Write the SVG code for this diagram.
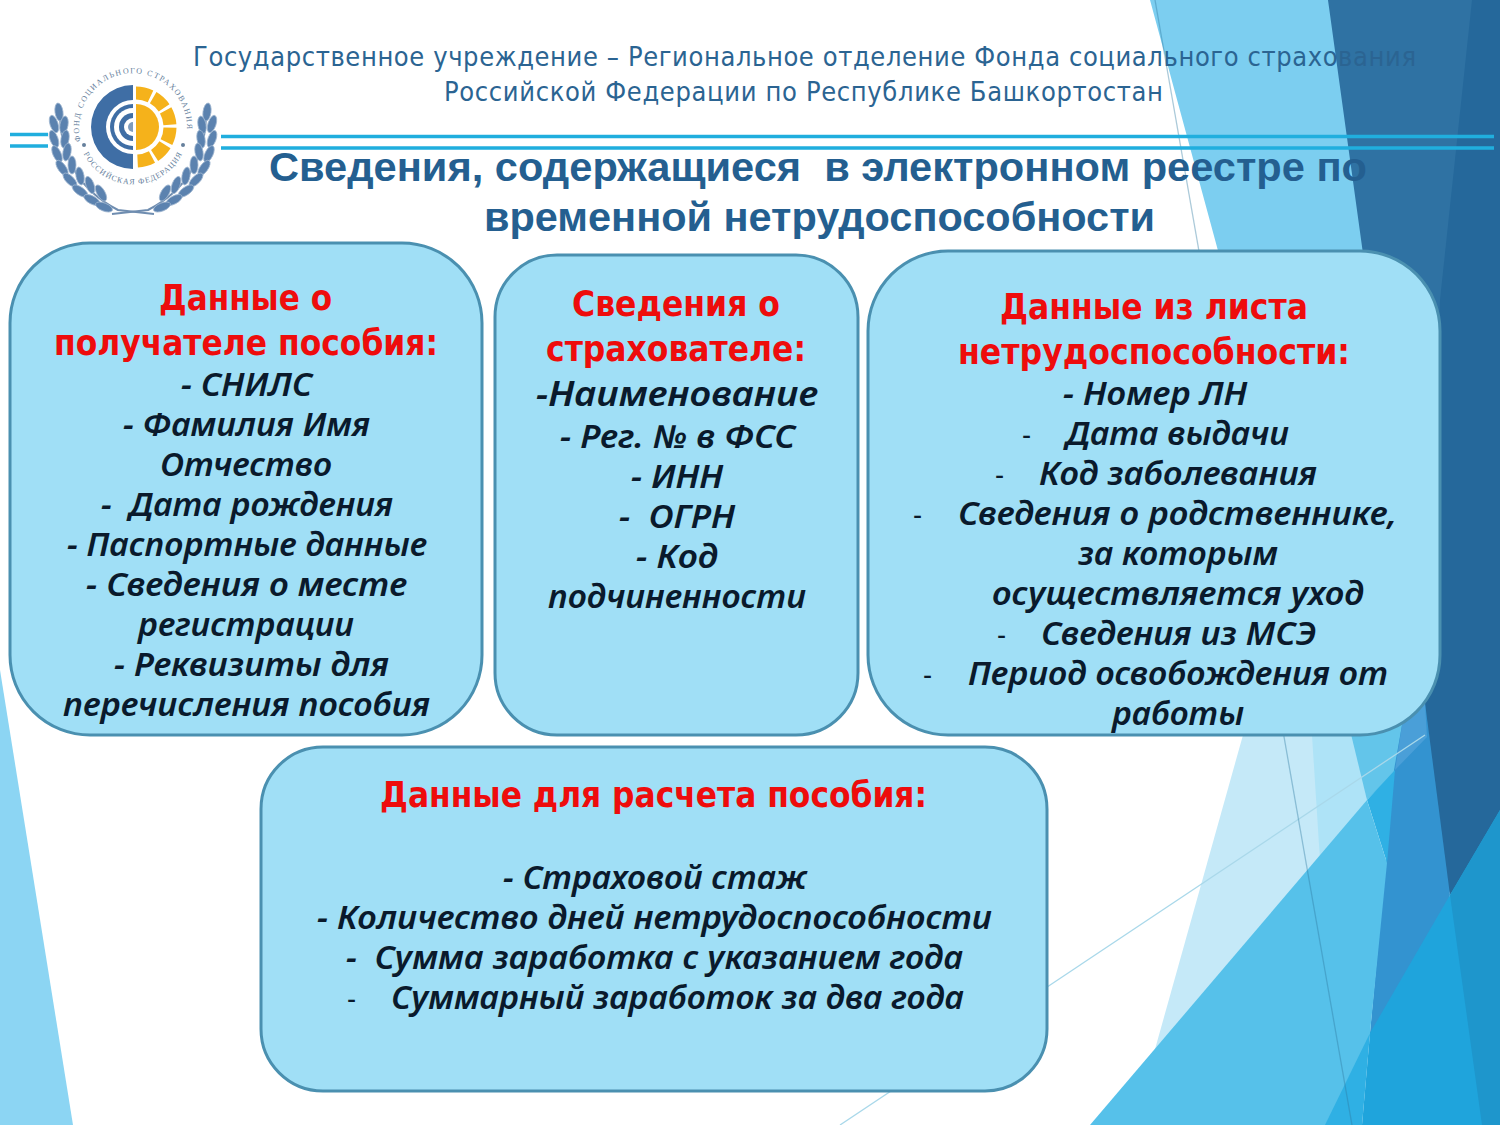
<svg xmlns="http://www.w3.org/2000/svg" xmlns:xlink="http://www.w3.org/1999/xlink" width="1500" height="1125" viewBox="0 0 1500 1125">
<style>
text{white-space:pre;font-family:"DejaVu Sans","Noto Sans",sans-serif;font-stretch:condensed}
.box{fill:#a0dff6;stroke:#4a90b0;stroke-width:3}
.h{font-size:36px;font-weight:bold;fill:#ee0c0c}
.t{font-family:"Noto Sans","DejaVu Sans",sans-serif;font-stretch:normal;font-size:32px;font-weight:600;font-style:italic;fill:#0a1a2c}
.d{font-size:28px;fill:#0a1a2c}
.hdr{font-size:27px;fill:#2b6492}
.ttl{font-family:"Liberation Sans",Arial,sans-serif;font-stretch:normal;font-size:40px;font-weight:bold;fill:#245f90}
.rule{stroke:#20aede;stroke-width:3.5;fill:none}
.thin{stroke:#a9d8ea;stroke-width:1.3;fill:none}
.ring{font-family:"Liberation Serif",serif;font-stretch:normal;font-size:8px;fill:#66809c}
.leaf{fill:#5b82af;stroke:#9fb6d0;stroke-width:.8}
</style>
<defs>
<ellipse id="lf" class="leaf" rx="9" ry="4"/>
<g id="branch">
<path d="M60 112Q60 180 118 210L154 214" fill="none" stroke="#6f8db0" stroke-width="2"/>
<use xlink:href="#lf" transform="translate(59,112) rotate(82)"/>
<use xlink:href="#lf" transform="translate(54,124) rotate(72)"/>
<use xlink:href="#lf" transform="translate(64,125) rotate(100)"/>
<use xlink:href="#lf" transform="translate(54,139) rotate(70)"/>
<use xlink:href="#lf" transform="translate(65,139) rotate(100)"/>
<use xlink:href="#lf" transform="translate(57,154) rotate(65)"/>
<use xlink:href="#lf" transform="translate(67,152) rotate(100)"/>
<use xlink:href="#lf" transform="translate(62,168) rotate(55)"/>
<use xlink:href="#lf" transform="translate(72,165) rotate(90)"/>
<use xlink:href="#lf" transform="translate(70,180) rotate(45)"/>
<use xlink:href="#lf" transform="translate(80,176) rotate(80)"/>
<use xlink:href="#lf" transform="translate(80,191) rotate(35)"/>
<use xlink:href="#lf" transform="translate(90,185) rotate(70)"/>
<use xlink:href="#lf" transform="translate(92,200) rotate(28)"/>
<use xlink:href="#lf" transform="translate(101,193) rotate(60)"/>
<use xlink:href="#lf" transform="translate(104,207) rotate(22)"/>
</g>
<path id="ringTop" d="M82 145A54 54 0 1 1 184 145"/>
<path id="ringBot" d="M82 150A55 55 0 0 0 184 150"/>
</defs>

<g id="background">
<path d="M0 670L73 1125H0Z" fill="#8cd5f3"/>
<path d="M1320 0H1500V830L1450 895L1400 700Z" fill="#25689b"/>
<path d="M1328 0H1472L1440 300L1425 703H1390Z" fill="#2f72a3"/>
<path d="M1150 0H1328L1425 703L1402 725L1367 800Z" fill="#7ccef0"/>
<path d="M1243 735H1355L1367 800L1250 1060H1152Z" fill="#c5e9f8"/>
<path d="M1312 735H1355L1367 800L1320 860Z" fill="#aee3f7"/>
<path d="M1350 730L1403 724L1395 772L1367 800Z" fill="#63c5ea"/>
<path d="M1394 770L1402 725L1425 703L1450 895L1390 1080L1370 1033Z" fill="#3393d0"/>
<path d="M1402 725L1425 703L1427 737L1395 770Z" fill="#4a9fd8"/>
<path d="M1367 800L1395 770L1387 863Z" fill="#2fb0e4"/>
<path d="M1090 1125L1367 800L1387 863L1370 1033L1355 1125Z" fill="#56c1ea"/>
<path d="M1325 1125L1370 1033L1362 1125Z" fill="#2fb0e4"/>
<path d="M1362 1125L1370 1033L1450 895L1500 810V1125Z" fill="#1fa4dc"/>
<path d="M1450 895L1500 810V1125H1482Z" fill="#1e96cc"/>
<path class="thin" d="M840 1125L1425 735"/>
<path d="M1155 0L1352 1125" fill="none" stroke="#2f7aa0" stroke-opacity=".4" stroke-width="1.3"/>
</g>

<g id="rules">
<path class="rule" d="M10 134.500H48M10 146H48M221 136.500H1494M221 148H1494"/>
</g>

<g id="header">
<text class="hdr" x="193" y="66" textLength="1223" lengthAdjust="spacing">Государственное учреждение – Региональное отделение Фонда социального страхования</text>
<text class="hdr" x="444" y="101" textLength="719" lengthAdjust="spacing">Российской Федерации по Республике Башкортостан</text>
</g>

<g id="logo">
<use xlink:href="#branch"/>
<use xlink:href="#branch" transform="translate(266,0) scale(-1,1)"/>
<text class="ring"><textPath xlink:href="#ringTop" startOffset="2%" textLength="185">ФОНД СОЦИАЛЬНОГО СТРАХОВАНИЯ</textPath></text>
<text class="ring"><textPath xlink:href="#ringBot" startOffset="3%" textLength="122">РОССИЙСКАЯ ФЕДЕРАЦИЯ</textPath></text>
<circle cx="84" cy="145" r="2" fill="#66809c"/><circle cx="183" cy="145" r="2" fill="#66809c"/>
<path d="M133 85A42 42 0 0 0 133 169Z" fill="#3f6ea5"/>
<path d="M133 100A27 27 0 0 0 133 154Z" fill="#fff"/>
<path d="M133 104A23 23 0 0 0 133 150Z" fill="#3f6ea5"/>
<path d="M133 108A19 19 0 0 0 133 146Z" fill="#fff"/>
<path d="M133 113A14 14 0 0 0 133 141Z" fill="#3f6ea5"/>
<path d="M133 118A9 9 0 0 0 133 136Z" fill="#fff"/>
<path d="M133 122A5 5 0 0 0 133 132Z" fill="#7f9cbd"/>
<path d="M136 104A23 23 0 0 1 136 150Z" fill="#f5b21b"/>
<path d="M136 93A34 34 0 0 1 136 161" fill="none" stroke="#f5b21b" stroke-width="13" stroke-dasharray="15 3"/>
</g>

<g id="title">
<text class="ttl" x="269" y="180.500" textLength="1098" lengthAdjust="spacingAndGlyphs">Сведения, содержащиеся  в электронном реестре по</text>
<text class="ttl" x="484" y="230.500" textLength="671" lengthAdjust="spacingAndGlyphs">временной нетрудоспособности</text>
</g>

<g id="node-recipient">
<rect class="box" x="10" y="243" width="472" height="492" rx="80"/>
<text class="h" x="159" y="310" textLength="173" lengthAdjust="spacingAndGlyphs">Данные о</text>
<text class="h" x="54" y="355" textLength="384" lengthAdjust="spacingAndGlyphs">получателе пособия:</text>
<text class="t" x="181" y="396" textLength="131" lengthAdjust="spacingAndGlyphs">- СНИЛС</text>
<text class="t" x="123" y="436" textLength="247" lengthAdjust="spacingAndGlyphs">- Фамилия Имя</text>
<text class="t" x="160" y="476" textLength="172" lengthAdjust="spacingAndGlyphs">Отчество</text>
<text class="t" x="101" y="516" textLength="292" lengthAdjust="spacingAndGlyphs">-  Дата рождения</text>
<text class="t" x="67" y="556" textLength="360" lengthAdjust="spacingAndGlyphs">- Паспортные данные</text>
<text class="t" x="86" y="596" textLength="321" lengthAdjust="spacingAndGlyphs">- Сведения о месте</text>
<text class="t" x="138" y="636" textLength="216" lengthAdjust="spacingAndGlyphs">регистрации</text>
<text class="t" x="114" y="676" textLength="275" lengthAdjust="spacingAndGlyphs">- Реквизиты для</text>
<text class="t" x="63" y="716" textLength="367" lengthAdjust="spacingAndGlyphs">перечисления пособия</text>
</g>

<g id="node-insurer">
<rect class="box" x="495" y="255" width="363" height="480" rx="62"/>
<text class="h" x="572" y="316" textLength="208" lengthAdjust="spacingAndGlyphs">Сведения о</text>
<text class="h" x="546" y="361" textLength="260" lengthAdjust="spacingAndGlyphs">страхователе:</text>
<text class="t" style="font-size:35px" x="536" y="406" textLength="282" lengthAdjust="spacingAndGlyphs">-Наименование</text>
<text class="t" x="560" y="448" textLength="235" lengthAdjust="spacingAndGlyphs">- Рег. № в ФСС</text>
<text class="t" x="631" y="488" textLength="92" lengthAdjust="spacingAndGlyphs">- ИНН</text>
<text class="t" x="619" y="528" textLength="116" lengthAdjust="spacingAndGlyphs">-  ОГРН</text>
<text class="t" x="636" y="568" textLength="82" lengthAdjust="spacingAndGlyphs">- Код</text>
<text class="t" x="548" y="608" textLength="258" lengthAdjust="spacingAndGlyphs">подчиненности</text>
</g>

<g id="node-sickleave">
<rect class="box" x="868" y="251" width="572" height="484" rx="80"/>
<text class="h" x="1000" y="319" textLength="308" lengthAdjust="spacingAndGlyphs">Данные из листа</text>
<text class="h" x="958" y="364" textLength="392" lengthAdjust="spacingAndGlyphs">нетрудоспособности:</text>
<text class="t" x="1063" y="405" textLength="184" lengthAdjust="spacingAndGlyphs">- Номер ЛН</text>
<text class="d" x="1022" y="445">-</text>
<text class="t" x="1066" y="445" textLength="223" lengthAdjust="spacingAndGlyphs">Дата выдачи</text>
<text class="d" x="995" y="485">-</text>
<text class="t" x="1039" y="485" textLength="278" lengthAdjust="spacingAndGlyphs">Код заболевания</text>
<text class="d" x="913" y="525">-</text>
<text class="t" x="958" y="525" textLength="439" lengthAdjust="spacingAndGlyphs">Сведения о родственнике,</text>
<text class="t" x="1078" y="565" textLength="200" lengthAdjust="spacingAndGlyphs">за которым</text>
<text class="t" x="992" y="605" textLength="372" lengthAdjust="spacingAndGlyphs">осуществляется уход</text>
<text class="d" x="997" y="645">-</text>
<text class="t" x="1041" y="645" textLength="275" lengthAdjust="spacingAndGlyphs">Сведения из МСЭ</text>
<text class="d" x="923" y="685">-</text>
<text class="t" x="968" y="685" textLength="420" lengthAdjust="spacingAndGlyphs">Период освобождения от</text>
<text class="t" x="1112" y="725" textLength="132" lengthAdjust="spacingAndGlyphs">работы</text>
</g>

<g id="node-calculation">
<rect class="box" x="261" y="747" width="786" height="344" rx="62"/>
<text class="h" x="380" y="807" textLength="547" lengthAdjust="spacingAndGlyphs">Данные для расчета пособия:</text>
<text class="t" x="503" y="889" textLength="304" lengthAdjust="spacingAndGlyphs">- Страховой стаж</text>
<text class="t" x="317" y="929" textLength="675" lengthAdjust="spacingAndGlyphs">- Количество дней нетрудоспособности</text>
<text class="t" x="346" y="969" textLength="617" lengthAdjust="spacingAndGlyphs">-  Сумма заработка с указанием года</text>
<text class="d" x="347" y="1009">-</text>
<text class="t" x="391" y="1009" textLength="573" lengthAdjust="spacingAndGlyphs">Суммарный заработок за два года</text>
</g>
</svg>
